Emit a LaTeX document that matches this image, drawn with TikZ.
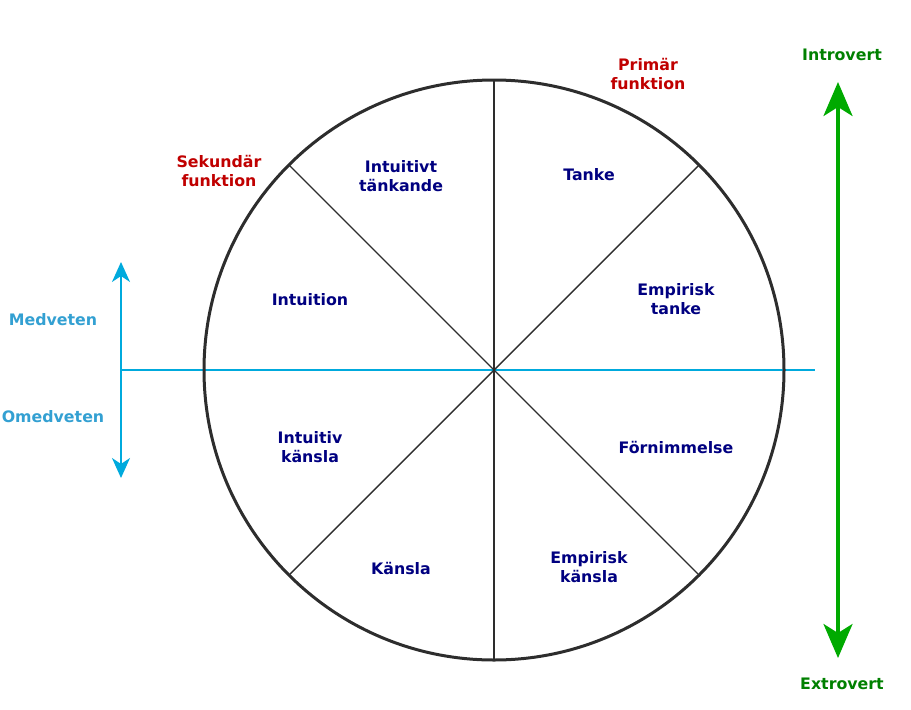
\documentclass[tikz,border=0pt]{standalone}
\usepackage{fontspec}
\setmainfont{DejaVu Sans}
\usetikzlibrary{arrows.meta}
\definecolor{fnavy}{RGB}{0,0,128}
\definecolor{fred}{RGB}{192,0,0}
\definecolor{skytext}{RGB}{51,160,210}
\definecolor{skyline}{RGB}{0,170,221}
\definecolor{gtext}{RGB}{0,128,0}
\definecolor{gline}{RGB}{0,170,0}
\definecolor{rim}{RGB}{45,45,45}
\begin{document}
\begin{tikzpicture}[x=1pt,y=-1pt,
  lab/.style={align=center,inner sep=0pt,font=\bfseries\fontsize{15.8}{19}\selectfont},
  fn/.style={lab,text=fnavy},
  role/.style={lab,text=fred},
  sky/.style={lab,text=skytext},
  grn/.style={lab,text=gtext},
  divider/.style={draw=rim,line width=1.4pt},
  axisline/.style={draw=skyline,line width=2pt},
  skyarrow/.style={draw=skyline,line width=2pt,{Stealth[length=20pt,width=18pt,inset=6pt]}-{Stealth[length=20pt,width=18pt,inset=6pt]}},
  grnarrow/.style={draw=gline,line width=3.5pt,{Stealth[length=34pt,width=29pt,inset=9pt]}-{Stealth[length=34pt,width=29pt,inset=9pt]}}]
\useasboundingbox (0,0) rectangle (911,710);

% conscious / unconscious axis
\coordinate (mleft) at (121,370);
\coordinate (mright) at (815,370);
\coordinate (mtop) at (121,262);
\coordinate (mbot) at (121,478);
\draw[axisline] (mleft) -- (mright);
\draw[skyarrow] (mtop) -- (mbot);

% function wheel
\node[circle,draw=rim,line width=3pt,minimum size=580pt,inner sep=0pt,outer sep=0pt] (wheel) at (494,370) {};
\draw[divider] (wheel.north) -- (wheel.south);
\draw[divider] (wheel.north west) -- (wheel.south east);
\draw[divider] (wheel.north east) -- (wheel.south west);

% introvert / extrovert axis
\coordinate (itop) at (838,82);
\coordinate (ibot) at (838,658);
\draw[grnarrow] (itop) -- (ibot);

% labels
\node[role] (prim) at (648,74) {Primär\\funktion};
\node[role] (sek) at (219,171) {Sekundär\\funktion};
\node[fn] (intt) at (401,176) {Intuitivt\\tänkande};
\node[fn] (tanke) at (589,175) {Tanke};
\node[fn] (emt) at (676,299) {Empirisk\\tanke};
\node[fn] (intu) at (310,300) {Intuition};
\node[fn] (intk) at (310,447) {Intuitiv\\känsla};
\node[fn] (forn) at (676,447) {Förnimmelse};
\node[fn] (kansla) at (401,568) {Känsla};
\node[fn] (emk) at (589,567) {Empirisk\\känsla};
\node[sky] (medv) at (53,320) {Medveten};
\node[sky] (omedv) at (53,417) {Omedveten};
\node[grn] (intro) at (842,55) {Introvert};
\node[grn] (extro) at (842,684) {Extrovert};
\end{tikzpicture}
\end{document}
